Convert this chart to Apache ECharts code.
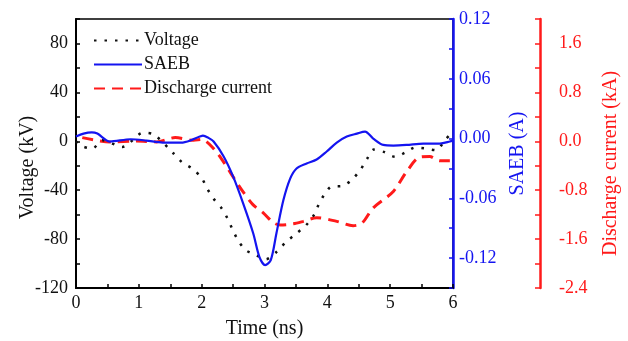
<!DOCTYPE html>
<html>
<head>
<meta charset="utf-8">
<script src="https://cdn.jsdelivr.net/npm/echarts@6/dist/echarts.min.js"></script>
<style>
  html, body { margin: 0; padding: 0; background: #fff; }
  #chart { width: 628px; height: 341px; }
</style>
</head>
<body>
<div id="chart"></div>
<script>
// Time axis (ns) and the three measured waveforms
const voltageT = [0.00, 0.07, 0.26, 0.42, 0.74, 1.07, 1.24, 1.55, 1.69, 1.85, 2.00, 2.08, 2.19, 2.32, 2.41, 2.49, 2.58, 2.70, 2.86, 3.02, 3.19, 3.34, 3.50, 3.66, 3.79, 3.86, 3.95, 4.07, 4.24, 4.40, 4.53, 4.63, 4.74, 4.90, 5.08, 5.24, 5.40, 5.57, 5.73, 5.87, 6.00];
const voltageKV = [0, -3.5, -6, 0.8, -4.6, 7, 5.5, -9.8, -17.3, -22.3, -30, -38, -47, -55, -63, -72, -81, -89, -93, -96.5, -90.6, -82.5, -75.7, -68.7, -60, -52, -43.8, -37, -36.5, -31, -23, -14.6, -6.8, -8.7, -12.7, -9.2, -5.1, -6, -7.3, 0.8, 8];

const saebT = [0.00, 0.12, 0.25, 0.34, 0.54, 0.87, 1.12, 1.38, 1.70, 1.97, 2.02, 2.10, 2.19, 2.35, 2.50, 2.66, 2.82, 2.92, 3.01, 3.10, 3.19, 3.30, 3.41, 3.51, 3.67, 3.83, 3.99, 4.15, 4.31, 4.47, 4.60, 4.73, 4.89, 5.05, 5.26, 5.53, 5.79, 5.95, 6.00];
const saebA = [0.002, 0.005, 0.0063, 0.005, -0.003, -0.0007, -0.002, -0.004, -0.004, 0.002, 0.003, 0.001, -0.003, -0.018, -0.038, -0.065, -0.095, -0.119, -0.127, -0.122, -0.095, -0.062, -0.040, -0.030, -0.025, -0.021, -0.013, -0.004, 0.002, 0.005, 0.007, 0.000, -0.0064, -0.007, -0.0064, -0.005, -0.005, -0.003, -0.002];

const currentT = [0.10, 0.54, 0.96, 1.28, 1.58, 1.87, 2.00, 2.19, 2.35, 2.48, 2.64, 2.82, 2.98, 3.14, 3.25, 3.46, 3.62, 3.83, 4.15, 4.41, 4.55, 4.73, 5.05, 5.26, 5.47, 5.63, 5.79, 5.95];
const currentKA = [0.06, -0.01, 0.005, -0.01, 0.06, 0.016, 0.03, -0.12, -0.34, -0.55, -0.80, -1.04, -1.17, -1.33, -1.37, -1.35, -1.31, -1.25, -1.31, -1.38, -1.34, -1.09, -0.82, -0.50, -0.26, -0.25, -0.32, -0.32];

const seriesNames = ['Voltage', 'SAEB', 'Discharge current'];

const zip = (xs, ys) => xs.map((x, i) => [x, ys[i]]);

const FONT = 'Liberation Serif';
const BLUE = '#1414f0';
const RED = '#ff1a1a';

const chart = echarts.init(document.getElementById('chart'), null, { renderer: 'canvas' });

const near = (v, step) => Math.abs(Math.round(v / step) * step - v) < 1e-6;

chart.setOption({
  animation: false,
  backgroundColor: '#fff',
  textStyle: { fontFamily: FONT },
  grid: {
    left: 76, right: 175, top: 19, bottom: 53,
    containLabel: false, outerBoundsMode: 'none',
    show: true, borderColor: '#000', borderWidth: 1.5, backgroundColor: 'transparent'
  },
  legend: {
    orient: 'vertical',
    left: 88, top: 26,
    itemWidth: 48, itemHeight: 14, itemGap: 5,
    itemStyle: { opacity: 0 },
    textStyle: { fontFamily: FONT, fontSize: 18, color: '#111', lineHeight: 19, padding: [0, 0, 0, -3] },
    data: seriesNames
  },
  xAxis: {
    type: 'value', min: 0, max: 6, interval: 0.5,
    name: 'Time (ns)', nameLocation: 'middle', nameGap: 31, nameMoveOverlap: false,
    nameTextStyle: { fontFamily: FONT, fontSize: 20, color: '#111' },
    axisLine: { onZero: false, lineStyle: { color: '#000', width: 2 } },
    axisTick: { inside: true, length: 4, lineStyle: { color: '#000', width: 1.5 } },
    axisLabel: {
      fontFamily: FONT, fontSize: 18, color: '#111', margin: 6,
      formatter: v => near(v, 1) ? String(Math.round(v)) : ''
    },
    splitLine: { show: false }
  },
  yAxis: [
    {
      type: 'value', min: -120, max: 100, interval: 20, position: 'left',
      name: 'Voltage (kV)', nameLocation: 'middle', nameGap: 38, nameRotate: 90, nameMoveOverlap: false,
      nameTextStyle: { fontFamily: FONT, fontSize: 20, color: '#111', padding: [0, 28, 0, 0] },
      axisLine: { show: true, onZero: false, lineStyle: { color: '#000', width: 2 } },
      axisTick: { inside: true, length: 4, lineStyle: { color: '#000', width: 1.5 } },
      axisLabel: {
        fontFamily: FONT, fontSize: 18, color: '#111', margin: 8,
        formatter: v => (near(v, 40) && v < 90) ? String(Math.round(v)) : ''
      },
      splitLine: { show: false }
    },
    {
      type: 'value', min: -0.15, max: 0.12, interval: 0.03, position: 'right',
      name: 'SAEB (A)', nameLocation: 'middle', nameGap: 55, nameRotate: 90,
      nameTextStyle: { fontFamily: FONT, fontSize: 20, color: BLUE },
      axisLine: { show: true, onZero: false, lineStyle: { color: BLUE, width: 2.5 } },
      axisTick: { inside: true, length: 4, lineStyle: { color: BLUE, width: 1.5 } },
      axisLabel: {
        fontFamily: FONT, fontSize: 18, color: BLUE, margin: 6,
        formatter: v => (near(v, 0.06) && Math.abs(v) < 0.13) ? (Math.abs(v) < 1e-9 ? '0.00' : v.toFixed(2)) : ''
      },
      splitLine: { show: false }
    },
    {
      type: 'value', min: -2.4, max: 2.0, interval: 0.4, position: 'right', offset: 87,
      name: 'Discharge current (kA)', nameLocation: 'middle', nameGap: 61, nameRotate: 90,
      nameTextStyle: { fontFamily: FONT, fontSize: 20, color: RED, padding: [0, 20, 0, 0] },
      axisLine: { show: true, onZero: false, lineStyle: { color: RED, width: 2.5 } },
      axisTick: { inside: true, length: 5, lineStyle: { color: RED, width: 1.5 } },
      axisLabel: {
        fontFamily: FONT, fontSize: 18, color: RED, margin: 19,
        formatter: v => (near(v, 0.8) && v < 1.9) ? (Math.abs(v) < 1e-9 ? '0.0' : v.toFixed(1)) : ''
      },
      splitLine: { show: false }
    }
  ],
  series: [
    {
      name: seriesNames[0], type: 'line', yAxisIndex: 0,
      data: zip(voltageT, voltageKV), smooth: 0.3, symbol: 'none',
      itemStyle: { color: '#111' },
      lineStyle: { color: '#111', width: 2.5, type: [2.5, 8] },
      z: 3
    },
    {
      name: seriesNames[1], type: 'line', yAxisIndex: 1,
      data: zip(saebT, saebA), smooth: 0.3, symbol: 'none',
      itemStyle: { color: BLUE },
      lineStyle: { color: BLUE, width: 2.2 },
      z: 4
    },
    {
      name: seriesNames[2], type: 'line', yAxisIndex: 2,
      data: zip(currentT, currentKA), smooth: 0.3, symbol: 'none',
      itemStyle: { color: RED },
      lineStyle: { color: RED, width: 3, type: [11, 7] },
      z: 2
    }
  ]
});
</script>
</body>
</html>
